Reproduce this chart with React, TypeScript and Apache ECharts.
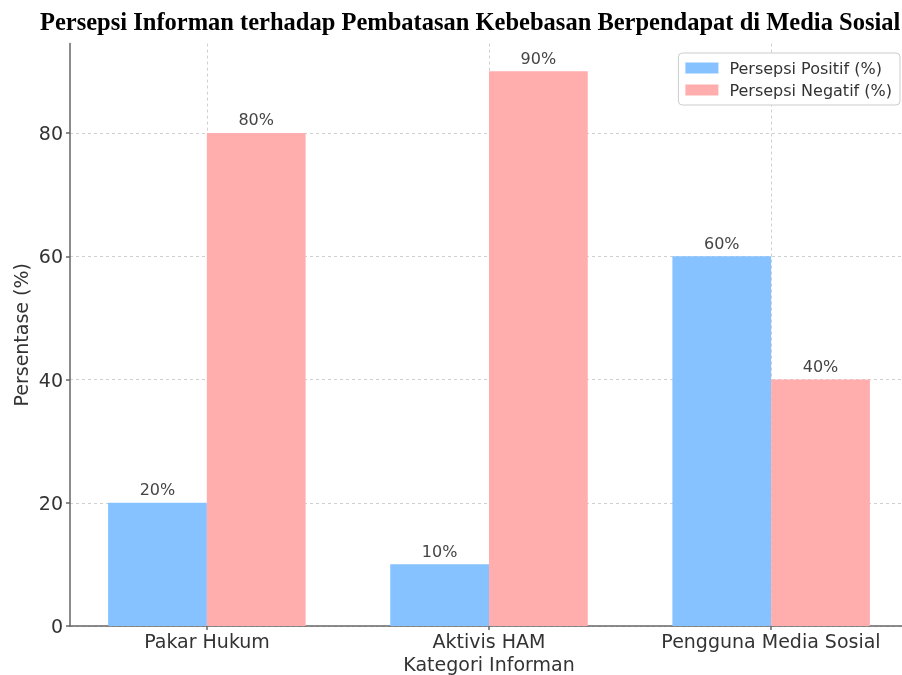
import React, { useEffect, useRef } from "react";
import * as echarts from "echarts";

const categories = ["Pakar Hukum", "Aktivis HAM", "Pengguna Media Sosial"];
const positive = [20, 10, 60];
const negative = [80, 90, 40];
const seriesNames = ["Persepsi Positif (%)", "Persepsi Negatif (%)"];
const yTicks = { min: 0, max: 80, interval: 20 };
const yTop = 94.5;
const xMin = -0.485;
const xMax = 2.485;

export default function App() {
  const ref = useRef<HTMLDivElement>(null);
  useEffect(() => {
    if (!ref.current) return;
    const chart = echarts.init(ref.current, undefined, { renderer: "svg" });
    const grayLine = { color: "#666", width: 1.5 };
    const split = { show: true, lineStyle: { color: "#d0d0d0", type: [3, 3] as any, width: 1 } };
    const barLabel = {
      show: true,
      position: "top" as const,
      distance: 5,
      fontSize: 16,
      color: "#444",
      formatter: (p: any) => p.value[1] + "%",
    };
    chart.setOption({
      animation: false,
      textStyle: { fontFamily: "DejaVu Sans" },
      title: {
        text: "Persepsi Informan terhadap Pembatasan Kebebasan Berpendapat di Media Sosial",
        left: 35,
        top: 4,
        textStyle: { fontFamily: "Liberation Serif", fontWeight: "bold", fontSize: 24.5, color: "#000" },
      },
      legend: {
        data: seriesNames,
        orient: "vertical",
        right: 2,
        top: 53,
        itemWidth: 33,
        itemHeight: 11,
        itemGap: 6,
        icon: "rect",
        textStyle: { fontSize: 16, color: "#333", padding: [0, 0, 0, 6] },
        backgroundColor: "#fff",
        borderColor: "#ccc",
        borderWidth: 1,
        borderRadius: 4,
        padding: [7, 8, 7, 7],
      },
      grid: [
        { left: 70, width: 838, top: 43.6, bottom: 49, outerBoundsMode: "none", containLabel: false },
        { left: 207, right: 131, top: 43.6, bottom: 49, outerBoundsMode: "none", containLabel: false },
        { left: 70, width: 838, top: 133, bottom: 49, outerBoundsMode: "none", containLabel: false },
      ],
      xAxis: [
        {
          type: "value", gridIndex: 0, min: xMin, max: xMax,
          axisLine: { show: true, onZero: false, lineStyle: grayLine },
          axisTick: { show: false }, axisLabel: { show: false }, splitLine: { show: false },
        },
        {
          type: "value", gridIndex: 1, min: 0, max: categories.length - 1, interval: 1,
          axisLine: { show: false },
          axisTick: { show: true, length: 4, lineStyle: { color: "#666", width: 1.5 } },
          axisLabel: { fontSize: 19, color: "#333", margin: 5, formatter: (v: number) => categories[v] ?? "" },
          splitLine: split,
          name: "Kategori Informan", nameLocation: "middle", nameGap: 28,
          nameTextStyle: { fontSize: 19, color: "#333" },
        },
        { type: "value", gridIndex: 2, min: 0, max: 1, show: false },
      ],
      yAxis: [
        {
          type: "value", gridIndex: 0, min: 0, max: yTop,
          axisLine: { show: true, onZero: false, lineStyle: grayLine },
          axisTick: { show: false }, axisLabel: { show: false }, splitLine: { show: false },
          name: "Persentase (%)", nameLocation: "middle", nameGap: 40,
          nameTextStyle: { fontSize: 19, color: "#333" },
        },
        { type: "value", gridIndex: 1, min: 0, max: yTop, show: false },
        {
          type: "value", gridIndex: 2, min: yTicks.min, max: yTicks.max, interval: yTicks.interval,
          axisLine: { show: false },
          axisTick: { show: true, length: 4, lineStyle: { color: "#666", width: 1.5 } },
          axisLabel: { fontSize: 19, color: "#333", margin: 7 },
          splitLine: split,
        },
      ],
      series: [
        {
          name: seriesNames[0], type: "bar", xAxisIndex: 0, yAxisIndex: 0,
          data: categories.map((_, i) => [i, positive[i]]),
          barWidth: "35%", barGap: "0%",
          itemStyle: { color: "#85c2ff" },
          label: barLabel,
        },
        {
          name: seriesNames[1], type: "bar", xAxisIndex: 0, yAxisIndex: 0,
          data: categories.map((_, i) => [i, negative[i]]),
          barWidth: "35%", barGap: "0%",
          itemStyle: { color: "#ffadad" },
          label: barLabel,
        },
      ],
    });
    return () => chart.dispose();
  }, []);
  return <div ref={ref} style={{ position: "fixed", left: 0, top: 0, width: 902, height: 675 }} />;
}
